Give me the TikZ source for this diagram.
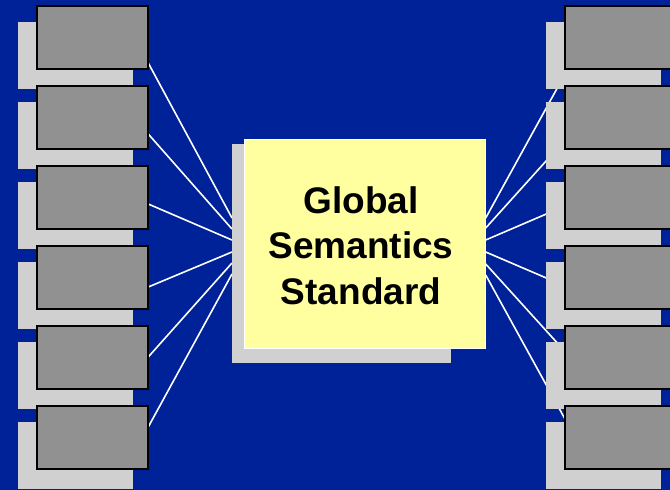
\documentclass[tikz,border=0pt]{standalone}
\usepackage{fontspec}
\setmainfont{Liberation Sans}
\usetikzlibrary{calc}
\definecolor{bgblue}{RGB}{0,34,153}
\definecolor{shadowgray}{RGB}{208,208,208}
\definecolor{boxgray}{RGB}{145,145,145}
\definecolor{paleyellow}{RGB}{255,255,160}
\tikzset{
  sbox/.style={fill=shadowgray, draw=none, minimum width=115, minimum height=66.7, inner sep=0, outer sep=0},
  gbox/.style={fill=boxgray, draw=black, line width=1.7pt, minimum width=111, minimum height=63, inner sep=0, outer sep=0},
  link/.style={draw=white, line width=1.6pt},
}
\begin{document}
\begin{tikzpicture}[x=1pt,y=-1pt]
\fill[bgblue] (0,0) rectangle (670,490);
\useasboundingbox (0,0) rectangle (670,490);
\clip (0,0) rectangle (670,490);
\foreach \i in {1,...,6}{
  \path (92.75,{37.75+80*(\i-1)}) node[gbox,draw=none,fill=none] (L\i) {};
  \path (620.5,{37.75+80*(\i-1)}) node[gbox,draw=none,fill=none] (R\i) {};
}
\path (341.35,253.35) node[minimum width=218.7, minimum height=218.7, inner sep=0, outer sep=0] (CS) {};
\path (364.85,244) node[minimum width=241.7, minimum height=209.4, inner sep=0, outer sep=0] (Y) {};
% connectors
\foreach \i/\a/\b in {1/25.25/-35.35, 2/16.25/-24.35, 3/6.25/-13.35, 4/9.25/-1.35, 5/-0.75/9.65, 6/-10.75/20.65}
  \draw[link] ($(L\i.east)+(0,\a)$) -- ($(CS.west)+(0,\b)$);
\foreach \i/\a/\b in {1/-26/36.25, 2/-16/22.25, 3/-4/8.25, 4/8/8.25, 5/20/-6.25, 6/31/-18.75}
  \draw[link] ($(Y.east)+(0,\a)$) -- ($(R\i.west)+(0,\b)$);
% side boxes with shadows
\foreach \i in {1,...,6}{
  \node[sbox] (LS\i) at ($(L\i.center)+(-17.25,17.5)$) {};
  \node[gbox] (LB\i) at (L\i.center) {};
  \node[sbox] (RS\i) at ($(R\i.center)+(-17,17.5)$) {};
  \node[gbox] (RB\i) at (R\i.center) {};
}
% centre box
\node[fill=shadowgray, minimum width=218.7, minimum height=218.7, inner sep=0, outer sep=0] (CSB) at (CS.center) {};
\node[fill=paleyellow, draw=white, line width=1pt, minimum width=240.7, minimum height=208.4, inner sep=0, outer sep=0] (YB) at (Y.center) {};
\node[font=\fontsize{37}{45.5}\selectfont\bfseries, align=center, inner sep=0] (T) at (361,245.75) {Global\\Semantics\\Standard};
\end{tikzpicture}
\end{document}
